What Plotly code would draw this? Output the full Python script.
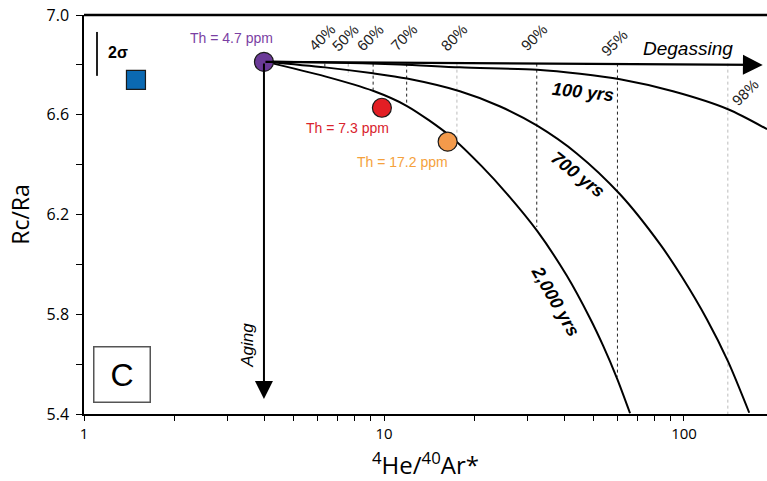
import numpy as np
import plotly.graph_objects as go

# ---------------- data ----------------
# model curves: 4He/40Ar* vs Rc/Ra
curve_100_x = [3.98, 6.36, 11.3, 17.9, 32.4, 45.0, 61.2, 91.9, 140.2, 189.1]
curve_100_y = [6.814, 6.810, 6.802, 6.790, 6.780, 6.764, 6.742, 6.694, 6.622, 6.542]

curve_700_x = [3.98, 6.36, 9.19, 11.93, 17.9, 24.4, 32.4, 44.0, 61.2, 83.2, 98.5, 119.3, 140.2, 165.0]
curve_700_y = [6.814, 6.790, 6.766, 6.745, 6.694, 6.633, 6.556, 6.444, 6.281, 6.081, 5.949, 5.779, 5.611, 5.405]

curve_2000_x = [3.98, 6.36, 9.19, 11.93, 16.6, 21.2, 25.7, 32.4, 40.7, 48.6, 53.7, 59.8, 66.1]
curve_2000_y = [6.814, 6.754, 6.696, 6.635, 6.515, 6.393, 6.283, 6.134, 5.954, 5.784, 5.675, 5.543, 5.403]

curve_labels = ["100 yrs", "700 yrs", "2,000 yrs"]

# degassing percentages
pct_labels = ["40%", "50%", "60%", "70%", "80%", "90%", "95%", "98%"]
pct_x = [6.35, 7.6, 9.2, 11.9, 17.5, 32.3, 60.0, 140.0]
pct_bottom = [6.78, 6.756, 6.70, 6.64, 6.50, 6.15, 5.55, 5.40]
pct_top = 6.805

# samples
th_labels = ["Th = 4.7 ppm", "Th = 7.3 ppm", "Th = 17.2 ppm"]
th_x = [3.98, 9.84, 16.3]
th_y = [6.812, 6.628, 6.492]

sample_x = [1.49]
sample_y = [6.74]

sigma_x = [1.105, 1.105]
sigma_y = [6.932, 6.756]

degas_end = (183.0, 6.800)
aging_end = (3.98, 5.46)

# ---------------- styles ----------------
pct_colors = ["#333333", "#aaaaaa", "#222222", "#222222", "#bbbbbb", "#222222", "#222222", "#bbbbbb"]
th_marker_colors = ["#6b3a98", "#e31e24", "#f39a4b"]
th_text_colors = ["#7b3fa3", "#d9232d", "#f5a13c"]
ann_font = "Liberation Sans, Arial, sans-serif"
axis_font = "Open Sans, sans-serif"

fig = go.Figure()

# dotted percentage lines
for x, yb, c in zip(pct_x, pct_bottom, pct_colors):
    fig.add_trace(go.Scatter(x=[x, x], y=[pct_top, yb], mode="lines",
                             line=dict(color=c, width=1, dash="dot"),
                             showlegend=False, hoverinfo="skip"))

# model curves
for cx, cy in [(curve_100_x, curve_100_y), (curve_700_x, curve_700_y), (curve_2000_x, curve_2000_y)]:
    fig.add_trace(go.Scatter(x=cx, y=cy, mode="lines",
                             line=dict(color="black", width=2, shape="spline", smoothing=0.8),
                             showlegend=False, hoverinfo="skip"))

# 2 sigma bar
fig.add_trace(go.Scatter(x=sigma_x, y=sigma_y, mode="lines",
                         line=dict(color="#222222", width=2), showlegend=False))

# blue square sample
fig.add_trace(go.Scatter(x=sample_x, y=sample_y, mode="markers",
                         marker=dict(symbol="square", size=19, color="#0b69b2",
                                     line=dict(color="#1a1a1a", width=1.2)),
                         showlegend=False))

lx = np.log10

annotations = []
# degassing arrow
annotations.append(dict(x=lx(degas_end[0]), y=degas_end[1], ax=lx(th_x[0]), ay=th_y[0],
                        xref="x", yref="y", axref="x", ayref="y", text="",
                        showarrow=True, arrowhead=2, arrowsize=1.8, arrowwidth=2.2,
                        arrowcolor="black", standoff=0, startstandoff=0))
# aging arrow
annotations.append(dict(x=lx(aging_end[0]), y=aging_end[1], ax=lx(th_x[0]), ay=th_y[0],
                        xref="x", yref="y", axref="x", ayref="y", text="",
                        showarrow=True, arrowhead=2, arrowsize=1.8, arrowwidth=2,
                        arrowcolor="black", standoff=0, startstandoff=0))

# Th markers (on top)
fig.add_trace(go.Scatter(x=th_x, y=th_y, mode="markers",
                         marker=dict(size=19, color=th_marker_colors,
                                     line=dict(color="#1a1a1a", width=1.2)),
                         showlegend=False))

# percentage labels
for lab, x in zip(pct_labels, pct_x):
    if lab == "98%":
        annotations.append(dict(x=lx(x), y=6.69, xref="x", yref="y", text=lab,
                                showarrow=False, textangle=-45, xshift=17,
                                font=dict(family=ann_font, size=15, color="#222")))
    else:
        yy = 6.89 if lab == "95%" else 6.91
        annotations.append(dict(x=lx(x), y=yy, xref="x", yref="y", text=lab,
                                showarrow=False, textangle=-45, xshift=-3,
                                font=dict(family=ann_font, size=15, color="#222")))

# curve labels
curve_label_pos = [(10 ** 1.663, 6.69, 6), (10 ** 1.648, 6.36, 38), (10 ** 1.572, 5.855, 60)]
for lab, (x, y, ang) in zip(curve_labels, curve_label_pos):
    annotations.append(dict(x=lx(x), y=y, xref="x", yref="y",
                            text="<b><i>" + lab + "</i></b>", showarrow=False,
                            textangle=ang, font=dict(family=ann_font, size=18, color="black")))

# Th labels
th_label_pos = [(10 ** 0.493, 6.906), (10 ** 0.877, 6.546), (10 ** 1.063, 6.41)]
for lab, (x, y), c in zip(th_labels, th_label_pos, th_text_colors):
    annotations.append(dict(x=lx(x), y=y, xref="x", yref="y", text=lab, showarrow=False,
                            font=dict(family=ann_font, size=14, color=c)))

# other texts
annotations.append(dict(x=2.013, y=6.866, xref="x", yref="y", text="<i>Degassing</i>",
                        showarrow=False, font=dict(family=ann_font, size=19, color="black")))
annotations.append(dict(x=0.547, y=5.674, xref="x", yref="y", text="<i>Aging</i>",
                        showarrow=False, textangle=-90,
                        font=dict(family=ann_font, size=17, color="black")))
annotations.append(dict(x=0.112, y=6.85, xref="x", yref="y", text="<b>2σ</b>",
                        showarrow=False, font=dict(family=ann_font, size=16, color="black")))
annotations.append(dict(x=0.127, y=5.558, xref="x", yref="y", text="C",
                        showarrow=False, width=55, height=54, borderwidth=1.5,
                        bordercolor="#555555", borderpad=0, bgcolor="white",
                        font=dict(family=ann_font, size=32, color="black")))

fig.update_layout(
    width=767, height=481,
    margin=dict(l=84, r=0, t=15, b=67),
    plot_bgcolor="white", paper_bgcolor="white",
    annotations=annotations,
    shapes=[dict(type="line", xref="paper", yref="paper", x0=0, x1=1, y0=1, y1=1,
                 line=dict(color="black", width=2.5))],
    xaxis=dict(type="log", range=[0, 2.2767], showgrid=False, zeroline=False,
               automargin=False, ticklabeloverflow="allow",
               showline=True, linecolor="black", linewidth=1.5,
               ticks="outside", ticklen=5, tickwidth=1.2, tickcolor="black",
               dtick=1,
               minor=dict(ticks="outside", ticklen=5, tickwidth=1.2, tickcolor="black",
                          dtick="D1", showgrid=False),
               tickfont=dict(family=axis_font, size=15, color="black"),
               title=dict(text="<sup>4</sup>He/<sup>40</sup>Ar*", standoff=16,
                          font=dict(family=axis_font, size=24, color="black"))),
    yaxis=dict(range=[5.4, 7.0], showgrid=False, zeroline=False,
               automargin=False, ticklabeloverflow="allow", ticklabelstandoff=4,
               showline=True, linecolor="black", linewidth=1.5,
               ticks="outside", ticklen=6, tickwidth=1.2, tickcolor="black",
               tick0=5.4, dtick=0.4, tickformat=".1f",
               minor=dict(ticks="outside", ticklen=6, tickwidth=1.2, tickcolor="black",
                          dtick=0.2, showgrid=False),
               tickfont=dict(family=axis_font, size=16, color="black"),
               title=dict(text="Rc/Ra", standoff=10,
                          font=dict(family=axis_font, size=23, color="black"))),
)

# remove the browser's default 8px body margin so the figure fills the window
fig.write_html("out.html", config={"displayModeBar": False},
               post_script="document.body.style.margin='0';")
